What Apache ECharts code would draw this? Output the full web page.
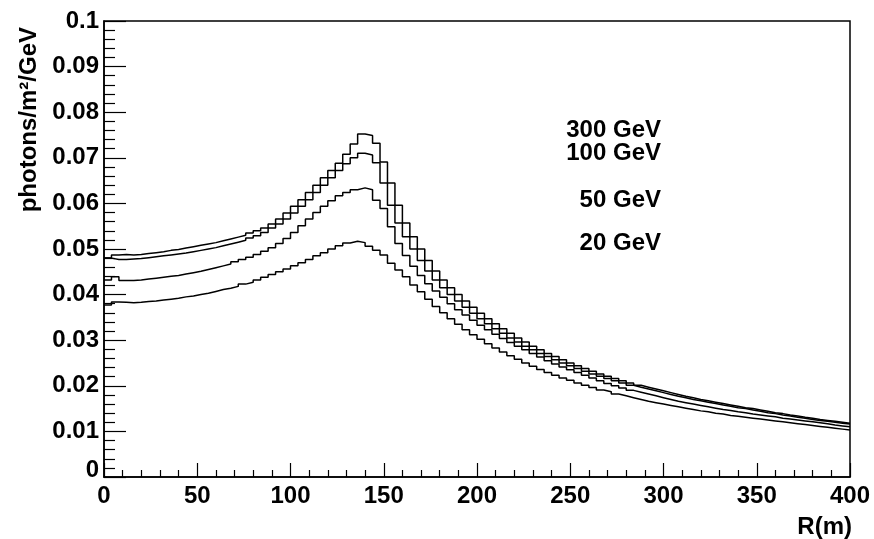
<!DOCTYPE html>
<html>
<head>
<meta charset="utf-8">
<script src="https://cdn.jsdelivr.net/npm/echarts@6/dist/echarts.min.js"></script>
<style>
  html, body { margin: 0; padding: 0; background: #fff; }
  #chart { width: 874px; height: 539px; }
</style>
</head>
<body>
<div id="chart"></div>
<script>
// photon density vs distance R, histogram with 4 m bins from 0 to 400 m
const BIN_W = 4;

const gev300 = [
  0.0480, 0.0487, 0.0488, 0.0487, 0.0488, 0.0490, 0.0492, 0.0494, 0.0497, 0.0499,
  0.0502, 0.0505, 0.0508, 0.0511, 0.0514, 0.0518, 0.0522, 0.0526, 0.0530, 0.0535,
  0.0540, 0.0546, 0.0555, 0.0566, 0.0579, 0.0594, 0.0608, 0.0624, 0.0640, 0.0656,
  0.0672, 0.0688, 0.0708, 0.0730, 0.0752, 0.0749, 0.0732, 0.0691, 0.0645, 0.0596,
  0.0557, 0.0527, 0.0500, 0.0475, 0.0452, 0.0432, 0.0415, 0.0400, 0.0386, 0.0372,
  0.0359, 0.0347, 0.0336, 0.0325, 0.0315, 0.0305, 0.0296, 0.0287, 0.0279, 0.0271,
  0.0264, 0.0257, 0.0250, 0.0244, 0.0238, 0.0232, 0.0226, 0.0221, 0.0216, 0.0211,
  0.0206, 0.0201, 0.0197, 0.0193, 0.0189, 0.0185, 0.0181, 0.0177, 0.0174, 0.0170,
  0.0167, 0.0164, 0.0161, 0.0158, 0.0155, 0.0152, 0.0150, 0.0147, 0.0144, 0.0141,
  0.0139, 0.0136, 0.0134, 0.0131, 0.0129, 0.0126, 0.0124, 0.0122, 0.0120, 0.0118
];
const gev100 = [
  0.0480, 0.0477, 0.0477, 0.0478, 0.0479, 0.0481, 0.0483, 0.0485, 0.0487, 0.0489,
  0.0491, 0.0494, 0.0497, 0.0500, 0.0503, 0.0507, 0.0511, 0.0515, 0.0519, 0.0524,
  0.0529, 0.0536, 0.0546, 0.0555, 0.0566, 0.0579, 0.0594, 0.0608, 0.0624, 0.0640,
  0.0656, 0.0672, 0.0687, 0.0700, 0.0710, 0.0706, 0.0689, 0.0645, 0.0596, 0.0557,
  0.0527, 0.0500, 0.0475, 0.0452, 0.0432, 0.0415, 0.0400, 0.0386, 0.0372, 0.0359,
  0.0347, 0.0336, 0.0325, 0.0315, 0.0305, 0.0296, 0.0287, 0.0279, 0.0271, 0.0264,
  0.0257, 0.0250, 0.0244, 0.0238, 0.0232, 0.0226, 0.0221, 0.0216, 0.0211, 0.0206,
  0.0201, 0.0197, 0.0193, 0.0189, 0.0185, 0.0181, 0.0177, 0.0174, 0.0170, 0.0167,
  0.0164, 0.0161, 0.0158, 0.0155, 0.0152, 0.0150, 0.0147, 0.0144, 0.0141, 0.0139,
  0.0136, 0.0134, 0.0131, 0.0129, 0.0126, 0.0124, 0.0122, 0.0120, 0.0118, 0.0116
];
const gev50 = [
  0.0432, 0.0439, 0.0431, 0.0431, 0.0432, 0.0434, 0.0436, 0.0438, 0.0440, 0.0442,
  0.0445, 0.0448, 0.0451, 0.0455, 0.0459, 0.0463, 0.0467, 0.0472, 0.0477, 0.0482,
  0.0488, 0.0495, 0.0503, 0.0512, 0.0523, 0.0536, 0.0551, 0.0566, 0.0580, 0.0594,
  0.0606, 0.0617, 0.0624, 0.0630, 0.0634, 0.0630, 0.0607, 0.0589, 0.0549, 0.0512,
  0.0486, 0.0462, 0.0442, 0.0424, 0.0408, 0.0394, 0.0380, 0.0367, 0.0355, 0.0344,
  0.0333, 0.0323, 0.0313, 0.0304, 0.0295, 0.0287, 0.0279, 0.0271, 0.0263, 0.0255,
  0.0248, 0.0241, 0.0235, 0.0229, 0.0223, 0.0217, 0.0211, 0.0205, 0.0200, 0.0195,
  0.0190, 0.0186, 0.0182, 0.0178, 0.0174, 0.0170, 0.0166, 0.0163, 0.0160, 0.0157,
  0.0154, 0.0151, 0.0148, 0.0146, 0.0143, 0.0141, 0.0138, 0.0136, 0.0134, 0.0132,
  0.0129, 0.0127, 0.0125, 0.0123, 0.0121, 0.0119, 0.0117, 0.0114, 0.0112, 0.0110
];
const gev20 = [
  0.0377, 0.0384, 0.0383, 0.0382, 0.0383, 0.0385, 0.0386, 0.0388, 0.0390, 0.0392,
  0.0395, 0.0397, 0.0400, 0.0403, 0.0407, 0.0411, 0.0414, 0.0418, 0.0423, 0.0427,
  0.0432, 0.0438, 0.0444, 0.0450, 0.0456, 0.0463, 0.0470, 0.0477, 0.0485, 0.0492,
  0.0500, 0.0507, 0.0513, 0.0517, 0.0514, 0.0506, 0.0497, 0.0487, 0.0469, 0.0454,
  0.0439, 0.0421, 0.0406, 0.0390, 0.0374, 0.0360, 0.0347, 0.0335, 0.0323, 0.0312,
  0.0302, 0.0292, 0.0283, 0.0274, 0.0266, 0.0258, 0.0250, 0.0243, 0.0236, 0.0229,
  0.0223, 0.0217, 0.0212, 0.0206, 0.0201, 0.0196, 0.0191, 0.0187, 0.0182, 0.0178,
  0.0174, 0.0170, 0.0166, 0.0163, 0.0160, 0.0157, 0.0154, 0.0151, 0.0148, 0.0145,
  0.0143, 0.0140, 0.0138, 0.0135, 0.0133, 0.0131, 0.0129, 0.0127, 0.0125, 0.0123,
  0.0121, 0.0119, 0.0117, 0.0115, 0.0113, 0.0111, 0.0109, 0.0107, 0.0105, 0.0103
];
const energyLabels = ['300 GeV', '100 GeV', '50 GeV', '20 GeV'];

const FONT = '"Liberation Sans", Arial, sans-serif';
const FS = 24;
const BOLD = 'bold ' + FS + 'px ' + FONT;

// bin left edges + closing edge, drawn as a step line
function toSteps(vals) {
  const pts = vals.map(function (v, i) { return [i * BIN_W, v]; });
  pts.push([vals.length * BIN_W, vals[vals.length - 1]]);
  return pts;
}

const chart = echarts.init(document.getElementById('chart'), null, { renderer: 'canvas' });

const labelStyle = { color: '#000', fontFamily: FONT, fontWeight: 'bold', fontSize: FS };

function textEl(txt, x, y, extra) {
  return Object.assign({
    type: 'text', x: x, y: y,
    style: { text: txt, align: 'right', verticalAlign: 'middle', fill: '#000', font: BOLD }
  }, extra || {});
}

const options = {
  animation: false,
  backgroundColor: '#fff',
  grid: {
    left: 104, right: 24, top: 21, bottom: 62,
    show: true, borderColor: '#000', borderWidth: 1.5
  },
  xAxis: {
    type: 'value', min: 0, max: 400, interval: 50,
    axisLine: { lineStyle: { color: '#000', width: 1.5 } },
    axisTick: { inside: true, length: 14, lineStyle: { color: '#000', width: 1.2 } },
    minorTick: { show: true, splitNumber: 5, length: 7, lineStyle: { color: '#000', width: 1.2 } },
    splitLine: { show: false },
    axisLabel: Object.assign({ margin: 7 }, labelStyle)
  },
  yAxis: {
    type: 'value', min: 0, max: 0.1, interval: 0.01,
    axisLine: { lineStyle: { color: '#000', width: 1.5 } },
    axisTick: { inside: true, length: 22, lineStyle: { color: '#000', width: 1.2 } },
    minorTick: { show: true, splitNumber: 5, length: 11, lineStyle: { color: '#000', width: 1.2 } },
    splitLine: { show: false },
    axisLabel: Object.assign({
      margin: 5,
      formatter: function (v) { return v === 0 ? '{z|0}' : String(+v.toFixed(2)); },
      rich: { z: Object.assign({ padding: [0, 0, 14, 0] }, labelStyle) }
    }, labelStyle)
  },
  series: [gev300, gev100, gev50, gev20].map(function (vals, k) {
    return {
      name: energyLabels[k],
      type: 'line',
      step: 'end',
      showSymbol: false,
      lineStyle: { color: '#000', width: 1.5 },
      data: toSteps(vals)
    };
  }),
  graphic: [
    textEl(energyLabels[0], 661, 130),
    textEl(energyLabels[1], 661, 153),
    textEl(energyLabels[2], 661, 200),
    textEl(energyLabels[3], 661, 243),
    textEl('R(m)', 852, 527),
    textEl('photons/m²/GeV', 29, 27, { rotation: Math.PI / 2 })
  ]
};

options && chart.setOption(options);
</script>
</body>
</html>
